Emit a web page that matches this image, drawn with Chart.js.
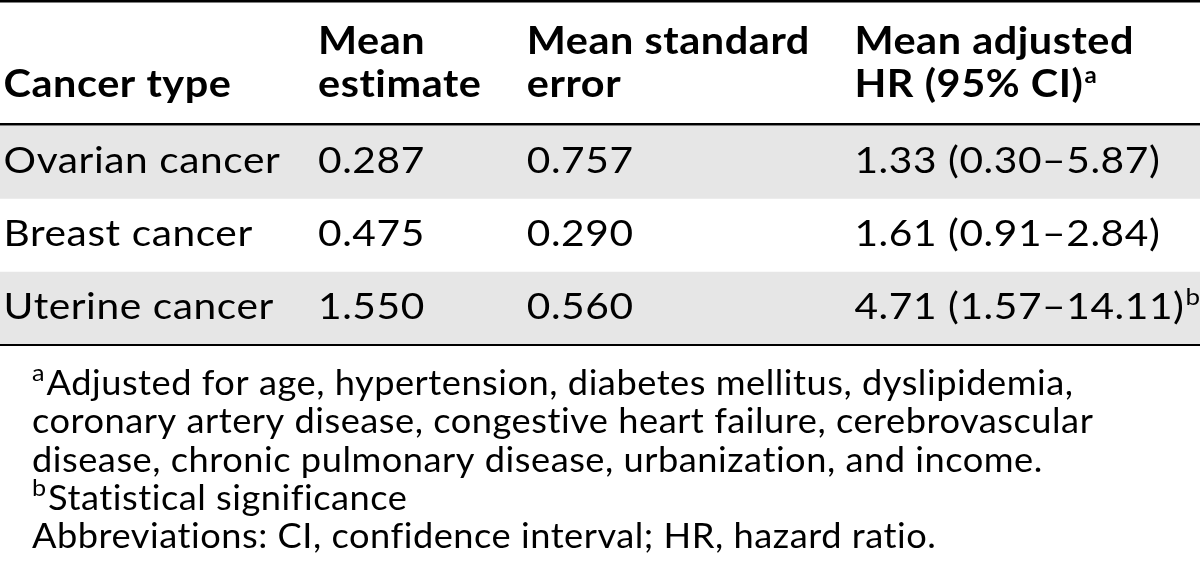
<!DOCTYPE html>
<html>
<head>
<meta charset="utf-8">
<script src="https://cdn.jsdelivr.net/npm/chart.js@4.4.1/dist/chart.umd.min.js"></script>
<style>
  html, body { margin: 0; padding: 0; background: #fff; }
  #wrap { width: 1200px; height: 581px; position: relative; }
</style>
</head>
<body>
<div id="wrap"><canvas id="chart_hazardRatioTable"></canvas></div>
<script>
// table content
const columnHeaders = [
    ['Cancer type'],
    ['Mean', 'estimate'],
    ['Mean standard', 'error'],
    ['Mean adjusted', 'HR (95% CI)']
];
const headerNotes = ['', '', '', 'a'];
const cancerTypes = ['Ovarian cancer', 'Breast cancer', 'Uterine cancer'];
const meanEstimate = [0.287, 0.475, 1.550];
const meanStdError = [0.757, 0.290, 0.560];
const hrMean = [1.33, 1.61, 4.71];
const hrLower = [0.30, 0.91, 1.57];
const hrUpper = [5.87, 2.84, 14.11];
const hrNotes = ['', '', 'b'];
const footnoteMarks = ['a', '', '', 'b', ''];
const footnoteLines = [
    'Adjusted for age, hypertension, diabetes mellitus, dyslipidemia,',
    'coronary artery disease, congestive heart failure, cerebrovascular',
    'disease, chronic pulmonary disease, urbanization, and income.',
    'Statistical significance',
    'Abbreviations: CI, confidence interval; HR, hazard ratio.'
];

// column left edges, as fraction of the table width
const columnStart = [0.003, 0.265, 0.439, 0.712];
const FONT = 'Lato, "Open Sans", sans-serif';

// font styles: css font, horizontal stretch, letter spacing
const headStyle = { font: 'bold 38px ' + FONT, sx: 1.09, ls: '0.5px' };
const headSupStyle = { font: 'bold 23px ' + FONT, sx: 1.05, ls: '0px' };
const bodyStyle = { font: '36px ' + FONT, sx: 1.13, ls: '0.5px' };
const bodySupStyle = { font: '24px ' + FONT, sx: 1.08, ls: '0px' };
const noteStyle = { font: '35px ' + FONT, sx: 1.035, ls: '0.5px' };
const noteSupStyle = { font: '24px ' + FONT, sx: 1.05, ls: '0px' };

function cellText(col, i) {
    if (col === 0) return cancerTypes[i];
    if (col === 1) return meanEstimate[i].toFixed(3);
    if (col === 2) return meanStdError[i].toFixed(3);
    return hrMean[i].toFixed(2) + ' (' + hrLower[i].toFixed(2) + '\u2013' + hrUpper[i].toFixed(2) + ')';
}

function drawText(ctx, text, x, y, st) {
    ctx.font = st.font;
    ctx.letterSpacing = st.ls;
    const w = ctx.measureText(text).width * st.sx;
    ctx.save();
    ctx.translate(x, y);
    ctx.scale(st.sx, 1);
    ctx.fillText(text, 0, 0);
    ctx.restore();
    return w;
}

function drawWithSup(ctx, text, sup, x, y, st, supSt) {
    const w = drawText(ctx, text, x, y, st);
    if (sup) drawText(ctx, sup, x + w + 1, y - 14, supSt);
}

const tablePlugin = {
    id: 'tablePlugin',
    beforeDraw: (chart) => {
        const ctx = chart.ctx;
        ctx.save();
        ctx.fillStyle = 'white';
        ctx.fillRect(0, 0, chart.width, chart.height);
        ctx.restore();
    },
    afterDatasetsDraw: (chart) => {
        const ctx = chart.ctx;
        const area = chart.chartArea;
        const xs = chart.scales.x;
        const ys = chart.scales.y;
        ctx.save();
        ctx.fillStyle = '#000';
        ctx.textBaseline = 'alphabetic';
        ctx.textAlign = 'left';

        // rules
        ctx.fillRect(0, 0, chart.width, 2.5);
        ctx.fillRect(0, area.top - 3, chart.width, 2.5);
        ctx.fillRect(0, area.bottom - 1, chart.width, 2);

        // header, bottom aligned
        columnHeaders.forEach((lines, c) => {
            const x = xs.getPixelForValue(columnStart[c]);
            lines.forEach((ln, k) => {
                const y = area.top - 29 - (lines.length - 1 - k) * 43;
                const sup = k === lines.length - 1 ? headerNotes[c] : '';
                drawWithSup(ctx, ln, sup, x, y, headStyle, headSupStyle);
            });
        });

        // body rows
        cancerTypes.forEach((_, i) => {
            const y = ys.getPixelForValue(i) + 10;
            columnStart.forEach((cx, c) => {
                const sup = c === 3 ? hrNotes[i] : '';
                drawWithSup(ctx, cellText(c, i), sup, xs.getPixelForValue(cx), y, bodyStyle, bodySupStyle);
            });
        });

        // footnotes
        footnoteLines.forEach((ln, k) => {
            const y = area.bottom + 50 + k * 38.3;
            let x = 32;
            if (footnoteMarks[k]) {
                x += drawText(ctx, footnoteMarks[k], x, y - 14, noteSupStyle) + 2;
            }
            drawText(ctx, ln, x, y, noteStyle);
        });
        ctx.restore();
    }
};

const chart_hazardRatioTable = new Chart(document.getElementById('chart_hazardRatioTable'), {
    type: 'bar',
    data: {
        labels: cancerTypes,
        datasets: [{
            label: 'row band',
            data: cancerTypes.map(() => 1),
            backgroundColor: (c) => c.dataIndex % 2 === 0 ? '#e6e6e6' : '#ffffff',
            borderWidth: 0,
            barPercentage: 1,
            categoryPercentage: 1
        }]
    },
    options: {
        indexAxis: 'y',
        animation: false,
        responsive: true,
        maintainAspectRatio: false,
        layout: { padding: { top: 126, bottom: 236, left: 0, right: 0 } },
        plugins: {
            legend: { display: false },
            tooltip: { enabled: false },
            title: { display: false }
        },
        scales: {
            x: { display: false, min: 0, max: 1 },
            y: { display: false }
        }
    },
    plugins: [tablePlugin]
});
</script>
</body>
</html>
